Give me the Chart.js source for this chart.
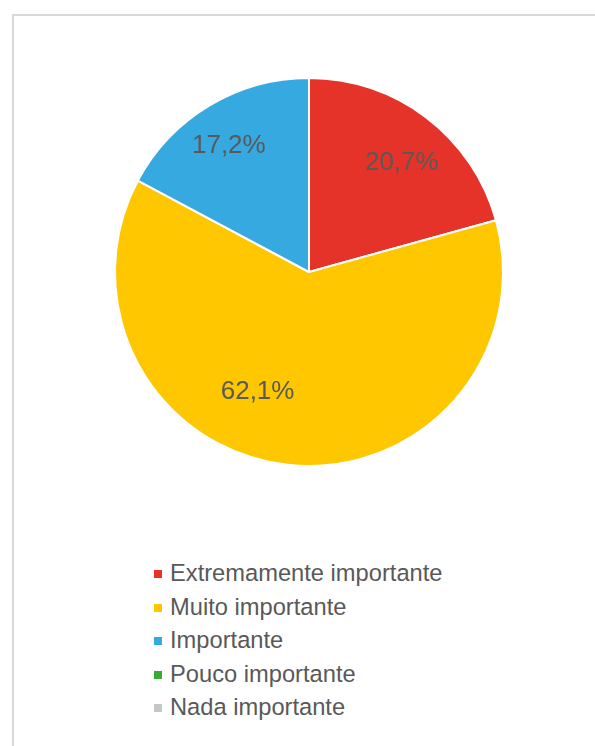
<!DOCTYPE html>
<html>
<head>
<meta charset="utf-8">
<script src="https://cdn.jsdelivr.net/npm/chart.js@4"></script>
<style>
  html, body { margin: 0; padding: 0; background: #fff; }
  body { width: 595px; height: 746px; position: relative; overflow: hidden; font-family: "Liberation Sans", Arial, sans-serif; }
  .frame { position: absolute; left: 12px; top: 14px; width: 700px; height: 800px; border-left: 2px solid #d9d9d9; border-top: 2px solid #d9d9d9; }
  #pie { position: absolute; left: 0; top: 0; }
  #legend { position: absolute; left: 154px; top: 557px; list-style: none; margin: 0; padding: 0; }
  #legend li { height: 33.5px; line-height: 33.5px; font-size: 23.7px; color: #595959; white-space: nowrap; }
  #legend .box { display: inline-block; width: 8px; height: 8px; margin-right: 8px; vertical-align: 3px; }
</style>
</head>
<body>
<div class="frame"></div>
<canvas id="pie" width="595" height="480"></canvas>
<ul id="legend"></ul>

<script>
// ── Dados ────────────────────────────────────────────────────────────────
const categorias = ['Extremamente importante', 'Muito importante', 'Importante', 'Pouco importante', 'Nada importante'];
const percentuais = [20.7, 62.1, 17.2, 0, 0];
const cores = ['#E6332A', '#FEC700', '#36A9E1', '#3AAA35', '#C6C6C6'];

// ajuste fino da posição dos rótulos (graus, fração do raio)
const rotuloDesvio = [3, 17, -1.5, 0, 0];
const rotuloRaio   = [0.74, 0.67, 0.77, 0.7, 0.7];

const fmt = v => v.toFixed(1).replace('.', ',') + '%';

// Rótulos de percentagem dentro das fatias
const rotulos = {
  id: 'rotulos',
  afterDatasetsDraw(chart) {
    const { ctx } = chart;
    const meta = chart.getDatasetMeta(0);
    ctx.save();
    ctx.font = '26px "Liberation Sans", Arial, sans-serif';
    ctx.fillStyle = '#595959';
    ctx.textAlign = 'center';
    ctx.textBaseline = 'middle';
    meta.data.forEach((arc, i) => {
      const v = percentuais[i];
      if (!v) return;
      const mid = (arc.startAngle + arc.endAngle) / 2 + rotuloDesvio[i] * Math.PI / 180;
      const r = arc.outerRadius * rotuloRaio[i];
      ctx.fillText(fmt(v), arc.x + Math.cos(mid) * r, arc.y + Math.sin(mid) * r);
    });
    ctx.restore();
  }
};

const chart = new Chart(document.getElementById('pie'), {
  type: 'pie',
  data: {
    labels: categorias,
    datasets: [{
      data: percentuais,
      backgroundColor: cores,
      borderColor: '#fff',
      borderWidth: 2,
    }]
  },
  options: {
    responsive: false,
    animation: false,
    layout: { padding: { top: 77, bottom: 13, left: 114, right: 91 } },
    plugins: { legend: { display: false }, tooltip: { enabled: false } }
  },
  plugins: [rotulos]
});

// ── Legenda ──────────────────────────────────────────────────────────────
const legend = document.getElementById('legend');
categorias.forEach((c, i) => {
  const li = document.createElement('li');
  li.innerHTML = `<span class="box" style="background:${cores[i]}"></span>${c}`;
  legend.appendChild(li);
});
</script>
</body>
</html>
